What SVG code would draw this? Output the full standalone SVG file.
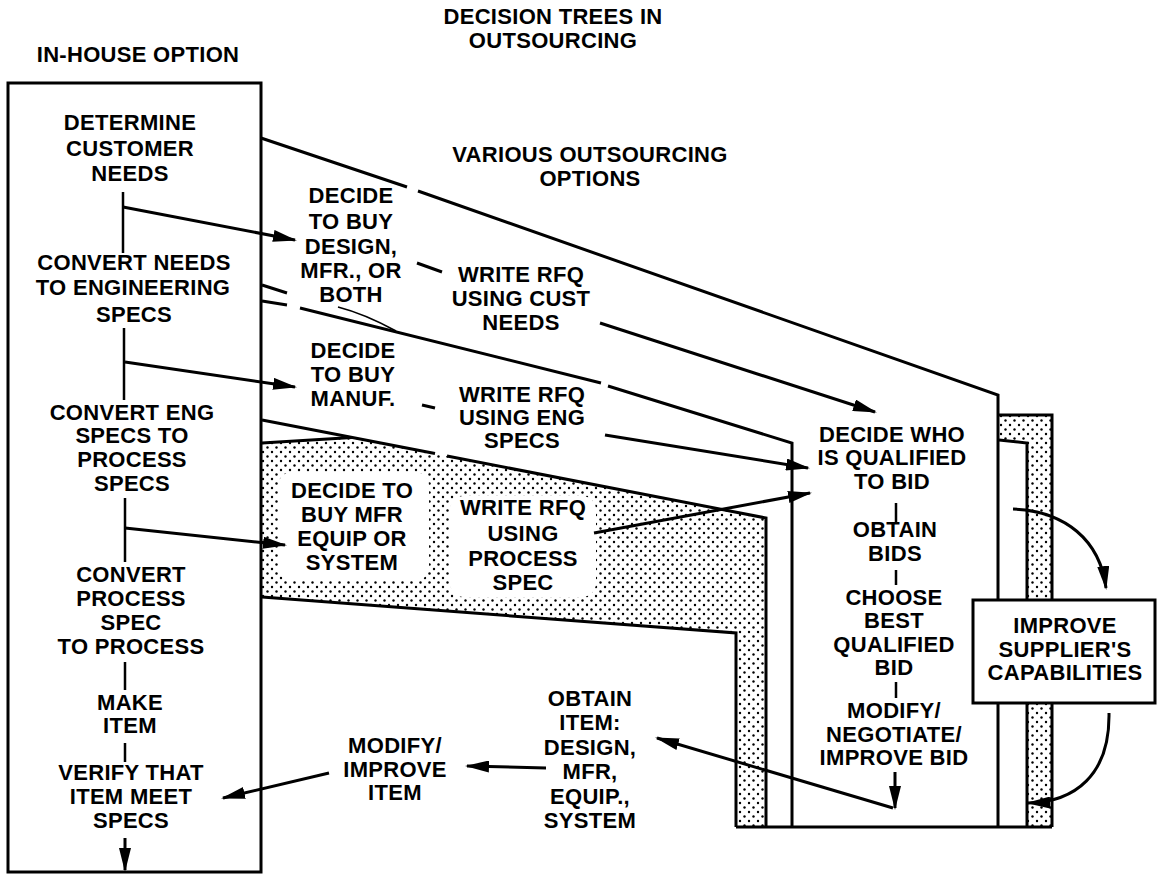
<svg xmlns="http://www.w3.org/2000/svg" width="1157" height="874" viewBox="0 0 1157 874">
<style>
text{font-family:"Liberation Sans",Arial,sans-serif;font-weight:bold;font-size:22px;fill:#000;text-anchor:middle;letter-spacing:0.3px}
.ln{fill:none;stroke:#000;stroke-width:3;stroke-linejoin:miter}
.st{fill:none;stroke:#000;stroke-width:2.5}
.arr{fill:none;stroke:#000;stroke-width:3;marker-end:url(#ah)}
.blank{fill:#fff;stroke:none}
</style>
<defs>
<marker id="ah" markerUnits="userSpaceOnUse" markerWidth="24" markerHeight="12" refX="22" refY="6" orient="auto"><path d="M0,0 L24,6 L0,12 Z" fill="#000"/></marker>
<pattern id="dots" width="9" height="9" patternUnits="userSpaceOnUse"><rect width="9" height="9" fill="#fff"/><circle cx="2" cy="2" r="1.2" fill="#000"/><circle cx="6.5" cy="6.5" r="1.2" fill="#000"/></pattern>
</defs>
<rect width="1157" height="874" fill="#fff"/>

<g id="structure">
<path d="M262,443 L352,437.5 L766,518 L766,827 L736,827 L736,633 L262,597 Z" fill="url(#dots)"/>
<rect class="blank" x="278" y="472" width="151" height="109" rx="14"/>
<rect class="blank" x="450" y="496" width="146" height="101" rx="14"/>
<path d="M999,415 L1052,415 L1052,827 L1027,827 L1027,443 L999,440 Z" fill="url(#dots)"/>
<rect class="ln" x="8" y="83" width="253" height="789"/>
<path class="ln" d="M261,138 L407,187 M418,191 L998,395 L998,827"/>
<path class="ln" d="M262,285 L287,293 M262,301 L287,305"/>
<path class="ln" d="M300,308 L601,383 M608,386 L792,443 L792,827"/>
<path fill="none" stroke="#000" stroke-width="1.8" d="M338,307 Q365,314 396,331"/>
<path class="ln" d="M262,420 L435,453.5 M447,456 L766,518 L766,827"/>
<path class="ln" d="M262,443 L352,437.5"/>
<path class="ln" d="M262,597 L736,633 L736,827"/>
<path class="ln" d="M736,827 L1052,827"/>
<path class="ln" d="M999,415 L1052,415 L1052,827 M999,440 L1027,443 L1027,827"/>
</g>

<g id="titles">
<text x="553" y="24">DECISION TREES IN</text>
<text x="553" y="48">OUTSOURCING</text>
<text x="138" y="62">IN-HOUSE OPTION</text>
<text x="590" y="162">VARIOUS OUTSOURCING</text>
<text x="590" y="186">OPTIONS</text>
</g>

<g id="n-determine"><text x="130" y="130">DETERMINE</text><text x="130" y="156">CUSTOMER</text><text x="130" y="181">NEEDS</text></g>
<g id="n-convert-needs"><text x="134" y="270">CONVERT NEEDS</text><text x="133" y="295">TO ENGINEERING</text><text x="134" y="322">SPECS</text></g>
<g id="n-convert-eng"><text x="132" y="420">CONVERT ENG</text><text x="132" y="443">SPECS TO</text><text x="132" y="467">PROCESS</text><text x="132" y="491">SPECS</text></g>
<g id="n-convert-process"><text x="131" y="582">CONVERT</text><text x="131" y="606">PROCESS</text><text x="131" y="630">SPEC</text><text x="131" y="654">TO PROCESS</text></g>
<g id="n-make"><text x="130" y="710">MAKE</text><text x="130" y="733">ITEM</text></g>
<g id="n-verify"><text x="131" y="780">VERIFY THAT</text><text x="131" y="804">ITEM MEET</text><text x="131" y="828">SPECS</text></g>

<g id="n-buy-design"><text x="351" y="203">DECIDE</text><text x="351" y="229">TO BUY</text><text x="351" y="254">DESIGN,</text><text x="351" y="278">MFR., OR</text><text x="351" y="302">BOTH</text></g>
<g id="n-rfq-cust"><text x="521" y="282">WRITE RFQ</text><text x="521" y="306">USING CUST</text><text x="521" y="330">NEEDS</text></g>
<g id="n-buy-manuf"><text x="353" y="358">DECIDE</text><text x="353" y="382">TO BUY</text><text x="353" y="406">MANUF.</text></g>
<g id="n-rfq-eng"><text x="522" y="402">WRITE RFQ</text><text x="522" y="425">USING ENG</text><text x="522" y="448">SPECS</text></g>
<g id="n-buy-equip"><text x="352" y="498">DECIDE TO</text><text x="352" y="522">BUY MFR</text><text x="352" y="546">EQUIP OR</text><text x="352" y="570">SYSTEM</text></g>
<g id="n-rfq-process"><text x="523" y="515">WRITE RFQ</text><text x="523" y="541">USING</text><text x="523" y="566">PROCESS</text><text x="523" y="590">SPEC</text></g>

<g id="n-qualified"><text x="892" y="442">DECIDE WHO</text><text x="892" y="465">IS QUALIFIED</text><text x="892" y="489">TO BID</text></g>
<g id="n-obtain-bids"><text x="895" y="537">OBTAIN</text><text x="895" y="561">BIDS</text></g>
<g id="n-choose"><text x="894" y="605">CHOOSE</text><text x="894" y="628">BEST</text><text x="894" y="652">QUALIFIED</text><text x="894" y="675">BID</text></g>
<g id="n-modify-bid"><text x="894" y="718">MODIFY/</text><text x="894" y="742">NEGOTIATE/</text><text x="894" y="765">IMPROVE BID</text></g>
<g id="n-improve-supplier"><rect x="973" y="600" width="182" height="103" fill="#fff" stroke="#000" stroke-width="3"/><text x="1065" y="633">IMPROVE</text><text x="1065" y="657">SUPPLIER'S</text><text x="1065" y="680">CAPABILITIES</text></g>
<g id="n-obtain-item"><text x="590" y="706">OBTAIN</text><text x="590" y="730">ITEM:</text><text x="590" y="755">DESIGN,</text><text x="590" y="779">MFR,</text><text x="590" y="804">EQUIP.,</text><text x="590" y="828">SYSTEM</text></g>
<g id="n-modify-item"><text x="395" y="753">MODIFY/</text><text x="395" y="777">IMPROVE</text><text x="395" y="800">ITEM</text></g>

<g id="connectors">
<path class="st" d="M123,192 L123,253 M124,328 L124,400 M125,498 L125,562 M125,662 L125,690 M125,743 L125,762"/>
<path class="st" d="M896,503 L896,522 M896,570 L896,585 M896,682 L896,698"/>
<path class="arr" d="M123,207 L295,240"/>
<path class="arr" d="M125,362 L295,387"/>
<path class="arr" d="M125,528 L285,545"/>
<path class="ln" d="M417,263 L442,272"/>
<path class="arr" d="M600,323 L875,412"/>
<path class="ln" d="M422,405 L435,408"/>
<path class="arr" d="M605,435 L808,468"/>
<path class="arr" d="M594,533 L810,493"/>
<path class="arr" d="M895,772 L895,808"/>
<path class="arr" d="M893,808 L657,738"/>
<path class="arr" d="M546,768 L467,766"/>
<path class="arr" d="M329,773 L223,798"/>
<path class="arr" d="M125,838 L125,870"/>
<path class="arr" d="M1013,509 C1065,511 1100,540 1106,588"/>
<path class="arr" d="M1109,713 C1110,775 1075,802 1028,803"/>
</g>
</svg>
